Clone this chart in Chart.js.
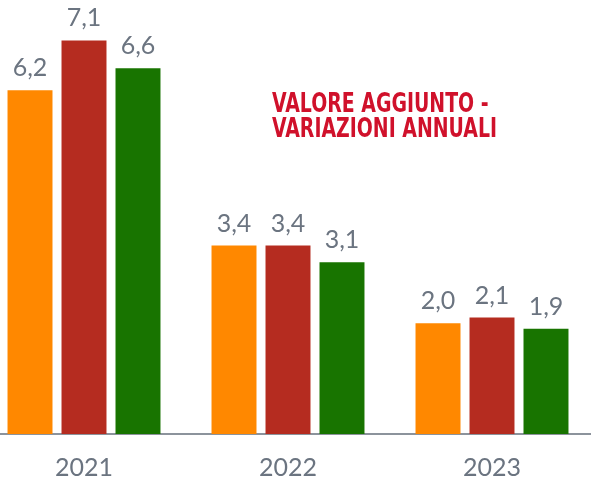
<!DOCTYPE html>
<html>
<head>
<meta charset="utf-8">
<script src="https://cdn.jsdelivr.net/npm/chart.js@4.4.0/dist/chart.umd.min.js"></script>
<style>
  html, body { margin: 0; padding: 0; background: #fff; }
  #cornice { width: 591px; height: 480px; position: relative; overflow: hidden; }
  #wrap { width: 612px; height: 502px; position: absolute; left: -18px; top: 0; }
</style>
</head>
<body>
<div id="cornice"><div id="wrap"><canvas id="grafico"></canvas></div></div>
<script>
// dati
const anni = ['2021', '2022', '2023'];
const serieArancio = [6.2, 3.4, 2.0];
const serieRosso = [7.1, 3.4, 2.1];
const serieVerde = [6.6, 3.1, 1.9];
const titolo = ['VALORE AGGIUNTO -', 'VARIAZIONI ANNUALI'];

// Funzione per scrivere i valori sopra le barre
const etichette = {
    id: 'etichette',
    afterDatasetsDraw(chart) {
        const ctx = chart.ctx;
        ctx.save();
        ctx.font = '25px Lato';
        ctx.fillStyle = '#6b7480';
        ctx.textAlign = 'center';
        ctx.textBaseline = 'alphabetic';
        chart.data.datasets.forEach(function(ds, i) {
            chart.getDatasetMeta(i).data.forEach(function(bar, j) {
                ctx.fillText(ds.data[j].toFixed(1).replace('.', ','), bar.x, bar.y - 14);
            });
        });
        ctx.restore();
    }
};

// Titolo in rosso, stretto (la tela è spostata di 18px a sinistra)
const titoloPlugin = {
    id: 'titolo',
    afterDraw(chart) {
        const ctx = chart.ctx;
        ctx.save();
        ctx.font = 'bold 27px "Liberation Sans Narrow", "DejaVu Sans Condensed", sans-serif';
        ctx.fillStyle = '#d0112b';
        ctx.textAlign = 'left';
        const w = ctx.measureText(titolo[1]).width;
        const sx = 225 / w;
        ctx.translate(272 + 18, 0);
        ctx.scale(sx, 1);
        ctx.fillText(titolo[0], 0, 112);
        ctx.fillText(titolo[1], 0, 137);
        ctx.restore();
    }
};

const ctx = document.getElementById('grafico').getContext('2d');
new Chart(ctx, {
    type: 'bar',
    data: {
        labels: anni,
        datasets: [
            { data: serieArancio, backgroundColor: '#ff8800' },
            { data: serieRosso, backgroundColor: '#b52c20' },
            { data: serieVerde, backgroundColor: '#187400' }
        ]
    },
    options: {
        responsive: true,
        maintainAspectRatio: false,
        animation: false,
        categoryPercentage: 0.794,
        barPercentage: 0.833,
        layout: { padding: 0 },
        plugins: {
            legend: { display: false },
            tooltip: { enabled: false },
            title: { display: false }
        },
        scales: {
            x: {
                grid: { display: false, drawTicks: false },
                border: { display: true, color: '#8c939c', width: 2 },
                ticks: {
                    color: '#6b7480',
                    font: { family: 'Lato', size: 25 },
                    padding: 19
                }
            },
            y: {
                display: false,
                min: 0,
                max: 7.83
            }
        }
    },
    plugins: [etichette, titoloPlugin]
});
</script>
</body>
</html>
